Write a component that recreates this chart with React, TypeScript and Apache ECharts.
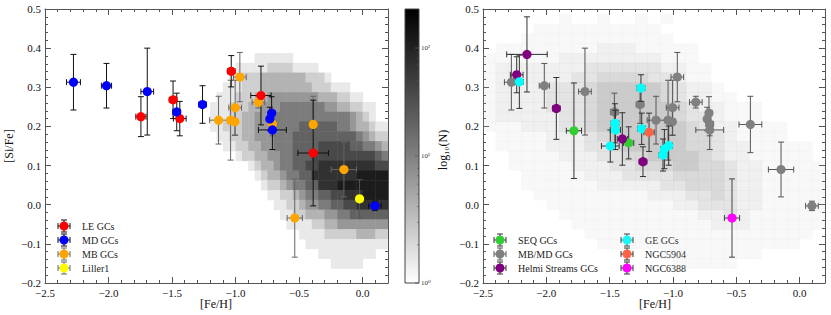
import React, { useEffect, useRef } from 'react';
import * as echarts from 'echarts';

// [Fe/H], [Si/Fe], xerr, yerr
const LE_GCS = [
  [-1.745, 0.225, 0.04, 0.051],
  [-1.492, 0.268, 0.03, 0.048],
  [-1.439, 0.220, 0.05, 0.044],
  [-1.034, 0.341, 0.03, 0.040],
  [-0.800, 0.279, 0.08, 0.075],
  [-0.389, 0.132, 0.12, 0.135],
];
const MD_GCS = [
  [-2.276, 0.313, 0.055, 0.071],
  [-2.016, 0.304, 0.04, 0.057],
  [-1.695, 0.289, 0.05, 0.111],
  [-1.463, 0.237, 0.03, 0.048],
  [-1.260, 0.256, 0.03, 0.048],
  [-0.716, 0.234, 0.02, 0.042],
  [-0.730, 0.219, 0.02, 0.030],
  [-0.710, 0.191, 0.11, 0.050],
  [0.097, -0.003, 0.05, 0.012],
];
const MB_GCS = [
  [-1.134, 0.216, 0.07, 0.061],
  [-1.039, 0.216, 0.02, 0.102],
  [-1.005, 0.212, 0.02, 0.035],
  [-1.003, 0.248, 0.05, 0.070],
  [-0.966, 0.326, 0.05, 0.063],
  [-0.820, 0.262, 0.05, 0.015],
  [-0.710, 0.206, 0.03, 0.030],
  [-0.389, 0.205, 0.09, 0.072],
  [-0.147, 0.090, 0.10, 0.070],
];
const NGC6388 = [[-0.534, -0.034, 0.06, 0.100]];
const LILLER1 = [[-0.024, 0.015, 0.01, 0.049]];
const SEQ_GCS = [
  [-1.782, 0.189, 0.06, 0.122],
  [-1.350, 0.158, 0.04, 0.041],
];
const HELMI_GCS = [
  [-2.153, 0.384, 0.16, 0.096],
  [-2.234, 0.332, 0.05, 0.046],
  [-1.921, 0.246, 0.03, 0.079],
  [-1.400, 0.168, 0.04, 0.067],
  [-1.237, 0.110, 0.03, 0.038],
];
const GE_GCS = [
  [-2.213, 0.314, 0.03, 0.068],
  [-1.253, 0.298, 0.03, 0.034],
  [-1.247, 0.194, 0.03, 0.040],
  [-1.458, 0.208, 0.03, 0.050],
  [-1.455, 0.191, 0.04, 0.050],
  [-1.495, 0.150, 0.07, 0.041],
  [-1.034, 0.151, 0.03, 0.050],
  [-1.068, 0.142, 0.03, 0.050],
  [-1.079, 0.127, 0.03, 0.041],
];
const NGC5904 = [[-1.189, 0.185, 0.04, 0.049]];

// Left panel: 2D histogram of field stars, level 0 (empty) .. 9 (densest)
// columns: [Fe/H] bin centres from -1.175 in steps of 0.05; rows: [Si/Fe] from 0.400 down in steps of 0.025
const LEFT_X0 = -1.175;
const LEFT_DX = 0.05;
const LEFT_Y0 = 0.4;
const LEFT_DY = 0.025;
const LEFT_DENSITY = [
  '0000000000000000000000000000',
  '0000000111111000000000000000',
  '0000111112222111100000000000',
  '0001122233333332221000000000',
  '0011122233333333222111000000',
  '0111222334444444433322110000',
  '1112223344455555554433221100',
  '1112233444555555555555432100',
  '1122233444555566666655433211',
  '0112233444555666666666654322',
  '0011223344555666677777665543',
  '0000122334455666777777777765',
  '0000001233455667788888888877',
  '0000000123345566888888899999',
  '0000000012234556688899999999',
  '0000000001122345566778889999',
  '0000000000112234455667788888',
  '0000000000011223334455666666',
  '0000000000001111223344444444',
  '0000000000000011112222233322',
  '0000000000000001111111111111',
  '0000000000000000011111111100',
  '0000000000000000000111110000',
  '0000000000000000000000000000',
];

// Right panel: field stars, level 0 (none) .. 5 (solid)
// columns: [Fe/H] bin centres from -2.45 in steps of 0.1; rows: [Si/Fe] from 0.475 down in steps of 0.025
const RIGHT_X0 = -2.45;
const RIGHT_DX = 0.1;
const RIGHT_Y0 = 0.475;
const RIGHT_DY = 0.025;
const RIGHT_DENSITY = [
  '000000100100101000000000000',
  '000011111111110000000000000',
  '000111111111111000000000000',
  '011111111222111110000000000',
  '111111222222221110000000000',
  '122222223333332211000000000',
  '122222233444433211000000000',
  '122223334555554322100000000',
  '122223334555554322110000000',
  '122223334555555432211100000',
  '122222334555555433211100000',
  '111222334555555543221111000',
  '011112223455555544321111000',
  '011112223345555544322111110',
  '001111222334455554322111110',
  '001111122233444554432211111',
  '000111112223333444432211111',
  '000111111222223344432211111',
  '000011111111122233432211111',
  '000001111111111223332211111',
  '000000111111111112232111111',
  '000000011111111111222111111',
  '000000001111111111111111110',
  '000000000111111111111111100',
  '000000000000001111111100000',
  '000000000000000111110000000',
  '000000000000000000000000000',
];

const X_TICKS_MAJOR = 0.5;
const X_TICKS_MINOR = 0.1;
const Y_TICKS = 0.1;
const COLORBAR_TICKS = [
  { label: '10⁰', y: 283 },
  { label: '10¹', y: 156 },
  { label: '10²', y: 48 },
];

const FONT = "'Liberation Serif', 'DejaVu Serif', serif";
const AX = '#555';
const LEFT_LEVEL_COLORS = ['#fff', '#e9e9e9', '#cfcfcf', '#b3b3b3', '#979797', '#7c7c7c', '#626262', '#494949', '#313131', '#1c1c1c'];
const RIGHT_LEVEL_OPACITY = [0, 0.12, 0.26, 0.45, 0.65, 0.88];

function cells(rows: string[], x0: number, dx: number, y0: number, dy: number) {
  const out: number[][] = [];
  rows.forEach((row, r) => {
    for (let c = 0; c < row.length; c++) {
      const lv = Number(row[c]);
      if (lv > 0) out.push([x0 + c * dx, y0 - r * dy, lv]);
    }
  });
  return out;
}

function fmt(v: number) {
  if (Math.abs(v) < 1e-9) return '0.0';
  return (v < 0 ? '−' : '') + Math.abs(v).toFixed(1);
}

function mkX(grid: number, pos: string, major: boolean, labels: boolean) {
  return {
    type: 'value',
    gridIndex: grid,
    position: pos,
    min: -2.5,
    max: 0.2,
    interval: major ? X_TICKS_MAJOR : X_TICKS_MINOR,
    axisLine: { show: major, onZero: false, lineStyle: { color: AX, width: 1 } },
    axisTick: { show: true, inside: true, length: major ? 6 : 3, lineStyle: { color: AX, width: 1 } },
    axisLabel: {
      show: labels,
      showMaxLabel: false,
      formatter: fmt,
      fontFamily: FONT,
      fontSize: 11,
      color: '#111',
      margin: 4,
    },
    splitLine: { show: false },
  };
}

function mkY(grid: number, pos: string, labels: boolean) {
  return {
    type: 'value',
    gridIndex: grid,
    position: pos,
    min: -0.2,
    max: 0.5,
    interval: Y_TICKS,
    axisLine: { show: true, onZero: false, lineStyle: { color: AX, width: 1 } },
    axisTick: { show: true, inside: true, length: 6, lineStyle: { color: AX, width: 1 } },
    minorTick: { show: true, splitNumber: 5, length: 3, lineStyle: { color: AX, width: 1 } },
    axisLabel: { show: labels, formatter: fmt, fontFamily: FONT, fontSize: 11, color: '#111', margin: 4 },
    splitLine: { show: false },
  };
}

function densitySeries(data: number[][], dx: number, dy: number, xi: number, yi: number, fillFn: (lv: number) => any) {
  return {
    type: 'custom',
    xAxisIndex: xi,
    yAxisIndex: yi,
    clip: true,
    silent: true,
    z: 1,
    data,
    encode: { x: 0, y: 1 },
    renderItem: (params: any, api: any) => {
      const x = api.value(0);
      const y = api.value(1);
      const lv = api.value(2);
      const p0 = api.coord([x - dx / 2, y + dy / 2]);
      const p1 = api.coord([x + dx / 2, y - dy / 2]);
      return {
        type: 'rect',
        shape: { x: p0[0], y: p0[1], width: p1[0] - p0[0] + 0.5, height: p1[1] - p0[1] + 0.5 },
        style: fillFn(lv),
      };
    },
  };
}

function errSeries(data: number[][], color: string, xi: number, yi: number, z: number) {
  return {
    type: 'custom',
    xAxisIndex: xi,
    yAxisIndex: yi,
    z,
    silent: true,
    data,
    encode: { x: 0, y: 1 },
    renderItem: (params: any, api: any) => {
      const x = api.value(0);
      const y = api.value(1);
      const xe = api.value(2);
      const ye = api.value(3);
      const l = api.coord([x - xe, y]);
      const r = api.coord([x + xe, y]);
      const t = api.coord([x, y + ye]);
      const b = api.coord([x, y - ye]);
      const cap = 3;
      const st = { stroke: color, lineWidth: 1 };
      const line = (x1: number, y1: number, x2: number, y2: number) => ({ type: 'line', shape: { x1, y1, x2, y2 }, style: st });
      return {
        type: 'group',
        children: [
          line(l[0], l[1], r[0], r[1]),
          line(l[0], l[1] - cap, l[0], l[1] + cap),
          line(r[0], r[1] - cap, r[0], r[1] + cap),
          line(t[0], t[1], b[0], b[1]),
          line(t[0] - cap, t[1], t[0] + cap, t[1]),
          line(b[0] - cap, b[1], b[0] + cap, b[1]),
        ],
      };
    },
  };
}

function dotSeries(data: number[][], color: string, xi: number, yi: number, z: number) {
  return {
    type: 'custom',
    xAxisIndex: xi,
    yAxisIndex: yi,
    z,
    silent: true,
    data: data.map((d) => [d[0], d[1]]),
    encode: { x: 0, y: 1 },
    renderItem: (params: any, api: any) => {
      const c = api.coord([api.value(0), api.value(1)]);
      return { type: 'circle', shape: { cx: c[0], cy: c[1], r: 4.6 }, style: { fill: color } };
    },
  };
}

function legendItem(x: number, y: number, color: string, bar: string, label: string) {
  const st = { stroke: bar, lineWidth: 1 };
  const h = 6;
  const cap = 3;
  return {
    type: 'group',
    children: [
      { type: 'line', shape: { x1: x - h, y1: y, x2: x + h, y2: y }, style: st },
      { type: 'line', shape: { x1: x - h, y1: y - cap, x2: x - h, y2: y + cap }, style: st },
      { type: 'line', shape: { x1: x + h, y1: y - cap, x2: x + h, y2: y + cap }, style: st },
      { type: 'line', shape: { x1: x, y1: y - h, x2: x, y2: y + h }, style: st },
      { type: 'line', shape: { x1: x - cap, y1: y - h, x2: x + cap, y2: y - h }, style: st },
      { type: 'line', shape: { x1: x - cap, y1: y + h, x2: x + cap, y2: y + h }, style: st },
      { type: 'circle', shape: { cx: x, cy: y, r: 4.5 }, style: { fill: color } },
      {
        type: 'text',
        x: x + 18,
        y,
        style: { text: label, fontFamily: FONT, fontSize: 10, fill: '#222', verticalAlign: 'middle' },
      },
    ],
  };
}

function buildOption() {
  const leftCells = cells(LEFT_DENSITY, LEFT_X0, LEFT_DX, LEFT_Y0, LEFT_DY);
  const rightCells = cells(RIGHT_DENSITY, RIGHT_X0, RIGHT_DX, RIGHT_Y0, RIGHT_DY);
  const grayGCs = [...MD_GCS, ...MB_GCS];

  const cbTicks: any[] = [];
  COLORBAR_TICKS.forEach((t) => {
    cbTicks.push({ type: 'line', shape: { x1: 415, y1: t.y, x2: 419, y2: t.y }, style: { stroke: '#555', lineWidth: 0.8 } });
    cbTicks.push({
      type: 'text',
      x: 421,
      y: t.y,
      style: { text: t.label, fontFamily: FONT, fontSize: 7, fill: '#333', verticalAlign: 'middle' },
    });
  });
  for (let d = 0; d < COLORBAR_TICKS.length - 1; d++) {
    const a = COLORBAR_TICKS[d].y;
    const b = COLORBAR_TICKS[d + 1].y;
    for (let k = 2; k <= 9; k++) {
      const yy = a + (b - a) * Math.log10(k);
      cbTicks.push({ type: 'line', shape: { x1: 417, y1: yy, x2: 419, y2: yy }, style: { stroke: '#555', lineWidth: 0.6 } });
    }
  }

  return {
    animation: false,
    backgroundColor: '#fff',
    grid: [
      { left: 45, top: 9, width: 343, height: 274 },
      { left: 483, top: 9, width: 342, height: 274 },
    ],
    xAxis: [
      mkX(0, 'bottom', true, true),
      mkX(0, 'bottom', false, false),
      mkX(0, 'top', true, false),
      mkX(0, 'top', false, false),
      mkX(1, 'bottom', true, true),
      mkX(1, 'bottom', false, false),
      mkX(1, 'top', true, false),
      mkX(1, 'top', false, false),
    ],
    yAxis: [mkY(0, 'left', true), mkY(0, 'right', false), mkY(1, 'left', true), mkY(1, 'right', false)],
    series: [
      densitySeries(leftCells, LEFT_DX, LEFT_DY, 0, 0, (lv) => ({ fill: LEFT_LEVEL_COLORS[lv] })),
      errSeries([...MB_GCS, ...NGC6388], '#666', 0, 0, 3),
      errSeries(LILLER1, '#555', 0, 0, 3),
      errSeries(LE_GCS, '#111', 0, 0, 3),
      errSeries(MD_GCS, '#111', 0, 0, 3),
      dotSeries([...MB_GCS, ...NGC6388], '#ffa500', 0, 0, 5),
      dotSeries(LE_GCS, '#ff0000', 0, 0, 5),
      dotSeries(MD_GCS, '#0000ff', 0, 0, 5),
      dotSeries(LILLER1, '#ffff00', 0, 0, 5),

      densitySeries(rightCells, RIGHT_DX, RIGHT_DY, 4, 2, (lv) => ({ fill: '#c4c4c4', opacity: RIGHT_LEVEL_OPACITY[lv] })),
      errSeries(grayGCs, '#555', 4, 2, 3),
      dotSeries(grayGCs, '#808080', 4, 2, 4),
      errSeries(SEQ_GCS, '#333', 4, 2, 5),
      errSeries(HELMI_GCS, '#333', 4, 2, 5),
      errSeries(GE_GCS, '#333', 4, 2, 5),
      errSeries(NGC5904, '#333', 4, 2, 5),
      errSeries(NGC6388, '#444', 4, 2, 5),
      dotSeries(SEQ_GCS, '#32cd32', 4, 2, 6),
      dotSeries(HELMI_GCS, '#800080', 4, 2, 6),
      dotSeries(GE_GCS, '#00ffff', 4, 2, 6),
      dotSeries(NGC5904, '#ff6347', 4, 2, 6),
      dotSeries(NGC6388, '#ff00ff', 4, 2, 6),
    ],
    graphic: [
      {
        type: 'rect',
        shape: { x: 405, y: 9, width: 14, height: 274 },
        style: {
          fill: { type: 'linear', x: 0, y: 0, x2: 0, y2: 1, colorStops: [{ offset: 0, color: '#000' }, { offset: 0.5, color: '#777' }, { offset: 1, color: '#fff' }] },
          stroke: '#444',
          lineWidth: 1,
        },
      },
      ...cbTicks,
      {
        type: 'text',
        x: 443,
        y: 150,
        rotation: Math.PI / 2,
        style: { text: 'log₁₀(N)', fontFamily: FONT, fontSize: 12, fill: '#111', align: 'center', verticalAlign: 'middle' },
      },
      {
        type: 'text',
        x: 9,
        y: 146,
        rotation: Math.PI / 2,
        style: { text: '[Si/Fe]', fontFamily: FONT, fontSize: 12, fill: '#111', align: 'center', verticalAlign: 'middle' },
      },
      {
        type: 'text',
        x: 216,
        y: 304,
        style: { text: '[Fe/H]', fontFamily: FONT, fontSize: 12, fill: '#111', align: 'center', verticalAlign: 'middle' },
      },
      {
        type: 'text',
        x: 655,
        y: 304,
        style: { text: '[Fe/H]', fontFamily: FONT, fontSize: 12, fill: '#111', align: 'center', verticalAlign: 'middle' },
      },
      legendItem(64, 226, '#ff0000', '#111', 'LE GCs'),
      legendItem(64, 240, '#0000ff', '#111', 'MD GCs'),
      legendItem(64, 254, '#ffa500', '#666', 'MB GCs'),
      legendItem(64, 268, '#ffff00', '#666', 'Liller1'),
      legendItem(500, 240, '#32cd32', '#333', 'SEQ GCs'),
      legendItem(500, 254, '#808080', '#555', 'MB/MD GCs'),
      legendItem(500, 268, '#800080', '#333', 'Helmi Streams GCs'),
      legendItem(627, 240, '#00ffff', '#333', 'GE GCs'),
      legendItem(627, 254, '#ff6347', '#333', 'NGC5904'),
      legendItem(627, 268, '#ff00ff', '#333', 'NGC6388'),
    ],
  };
}

export default function App() {
  const ref = useRef<HTMLDivElement>(null);
  useEffect(() => {
    document.body.style.margin = '0';
    const chart = echarts.init(ref.current as HTMLDivElement, undefined, { renderer: 'svg' });
    chart.setOption(buildOption() as any);
    return () => chart.dispose();
  }, []);
  return <div ref={ref} style={{ width: 831, height: 315 }} />;
}
